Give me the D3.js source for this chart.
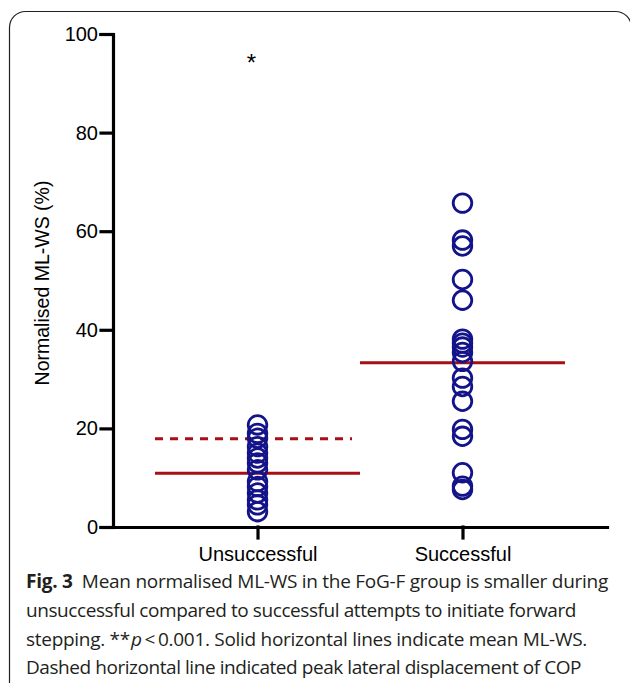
<!DOCTYPE html>
<html>
<head>
<meta charset="utf-8">
<script src="https://cdn.jsdelivr.net/npm/d3@7"></script>
<style>
  body { margin: 0; background: #fff; }
  svg { display: block; }
  .tick text { font-family: "Liberation Sans", Arial, sans-serif; fill: #000; }
  .caption { font-family: "Open Sans", "Noto Sans", sans-serif; fill: #231f20; }
</style>
</head>
<body>
<div id="wrapper"></div>
<script>
// data
const groups = ["Unsuccessful", "Successful"]
const unsuccessfulValues = [20.7, 19.0, 18.0, 16.3, 15.0, 14.0, 13.0, 11.6, 9.2, 8.2, 6.9, 5.5, 4.5, 3.1]
const successfulValues = [65.7, 58.2, 57.0, 50.2, 46.0, 38.1, 37.3, 36.5, 35.4, 33.6, 30.2, 28.5, 25.5, 19.8, 18.4, 11.0, 8.3, 7.6]
const meanValues = [10.9, 33.3]
const peakValues = [17.9]
const yTicks = [0, 20, 40, 60, 80, 100]
const captionLines = [
  "Mean normalised ML-WS in the FoG-F group is smaller during",
  "unsuccessful compared to successful attempts to initiate forward",
  "stepping. **p\u2009<\u20090.001. Solid horizontal lines indicate mean ML-WS.",
  "Dashed horizontal line indicated peak lateral displacement of COP"
]

function draw() {
  const width = 630
  const height = 683

  const svg = d3.select("#wrapper")
    .append("svg")
      .attr("width", width)
      .attr("height", height)

  // frame round the figure, cut off on the right and bottom
  svg.append("rect")
      .attr("x", 9.5)
      .attr("y", 11.5)
      .attr("width", 622)
      .attr("height", 690)
      .attr("rx", 16)
      .attr("fill", "none")
      .attr("stroke", "#231f20")
      .attr("stroke-width", 1.2)

  // scales
  const yScale = d3.scaleLinear()
      .domain([0, 100])
      .range([527, 34])

  const xScale = d3.scalePoint()
      .domain(groups)
      .range([113, 607])
      .padding(0.705)

  // axes
  const yAxis = svg.append("g")
      .attr("transform", "translate(113,0)")
      .call(d3.axisLeft(yScale).tickValues(yTicks).tickSize(12).tickPadding(3))
  yAxis.selectAll("text").style("font-size", "20px")

  const xAxis = svg.append("g")
      .attr("transform", "translate(0,527)")
      .call(d3.axisBottom(xScale).tickSize(11).tickPadding(9).tickSizeOuter(0))
  xAxis.selectAll("text").style("font-size", "20px")

  svg.selectAll(".domain, .tick line")
      .attr("stroke", "#000")
      .attr("stroke-width", 3.2)
      .attr("stroke-linecap", "square")

  svg.append("text")
      .attr("transform", "translate(49,283) rotate(-90)")
      .attr("text-anchor", "middle")
      .style("font-family", "Liberation Sans, Arial, sans-serif")
      .style("font-size", "19.5px")
      .text("Normalised ML-WS (%)")

  // mean and peak lines
  const half = xScale.step() / 2
  svg.selectAll(".mean")
    .data(meanValues)
    .enter().append("line")
      .attr("class", "mean")
      .attr("x1", (d, i) => xScale(groups[i]) - half)
      .attr("x2", (d, i) => xScale(groups[i]) + half)
      .attr("y1", d => yScale(d))
      .attr("y2", d => yScale(d))
      .attr("stroke", "#a50f15")
      .attr("stroke-width", 3)

  svg.selectAll(".peak")
    .data(peakValues)
    .enter().append("line")
      .attr("class", "peak")
      .attr("x1", (d, i) => xScale(groups[i]) - half)
      .attr("x2", (d, i) => xScale(groups[i]) + half - 8)
      .attr("y1", d => yScale(d))
      .attr("y2", d => yScale(d))
      .attr("stroke", "#a50f15")
      .attr("stroke-width", 3)
      .attr("stroke-dasharray", "8,7")

  // points
  const points = [
    ...unsuccessfulValues.map(v => ({group: groups[0], value: v})),
    ...successfulValues.map(v => ({group: groups[1], value: v})),
  ]
  svg.selectAll(".point")
    .data(points)
    .enter().append("circle")
      .attr("class", "point")
      .attr("cx", d => xScale(d.group))
      .attr("cy", d => yScale(d.value))
      .attr("r", 9.3)
      .attr("fill", "none")
      .attr("stroke", "#14148a")
      .attr("stroke-width", 2.8)

  // significance mark
  svg.append("text")
      .attr("x", xScale(groups[0]) - 6)
      .attr("y", yScale(92.4))
      .attr("text-anchor", "middle")
      .style("font-family", "Liberation Sans, Arial, sans-serif")
      .style("font-size", "24px")
      .text("*")

  // caption
  const lineY = [588, 617, 646, 674]
  const lineLengths = [582, 550, 560, 555]
  captionLines.forEach((line, i) => {
    const t = svg.append("text")
        .attr("class", "caption")
        .attr("x", 26)
        .attr("y", lineY[i])
        .style("font-size", "19px")
    if (i === 0) {
      t.append("tspan").style("font-weight", "bold").text("Fig. 3")
      t.append("tspan").text("\u2002" + line)
    } else if (i === 2) {
      const parts = line.split("**p")
      t.append("tspan").text(parts[0] + "**")
      t.append("tspan").attr("dx", 1).style("font-style", "italic").text("p")
      t.append("tspan").text(parts[1])
    } else {
      t.text(line)
    }
    // squeeze the line to the width in the figure by letter spacing
    const natural = t.node().getComputedTextLength()
    const chars = t.text().length
    t.style("letter-spacing", `${(lineLengths[i] - natural) / chars}px`)
  })
}
draw()
</script>
</body>
</html>
